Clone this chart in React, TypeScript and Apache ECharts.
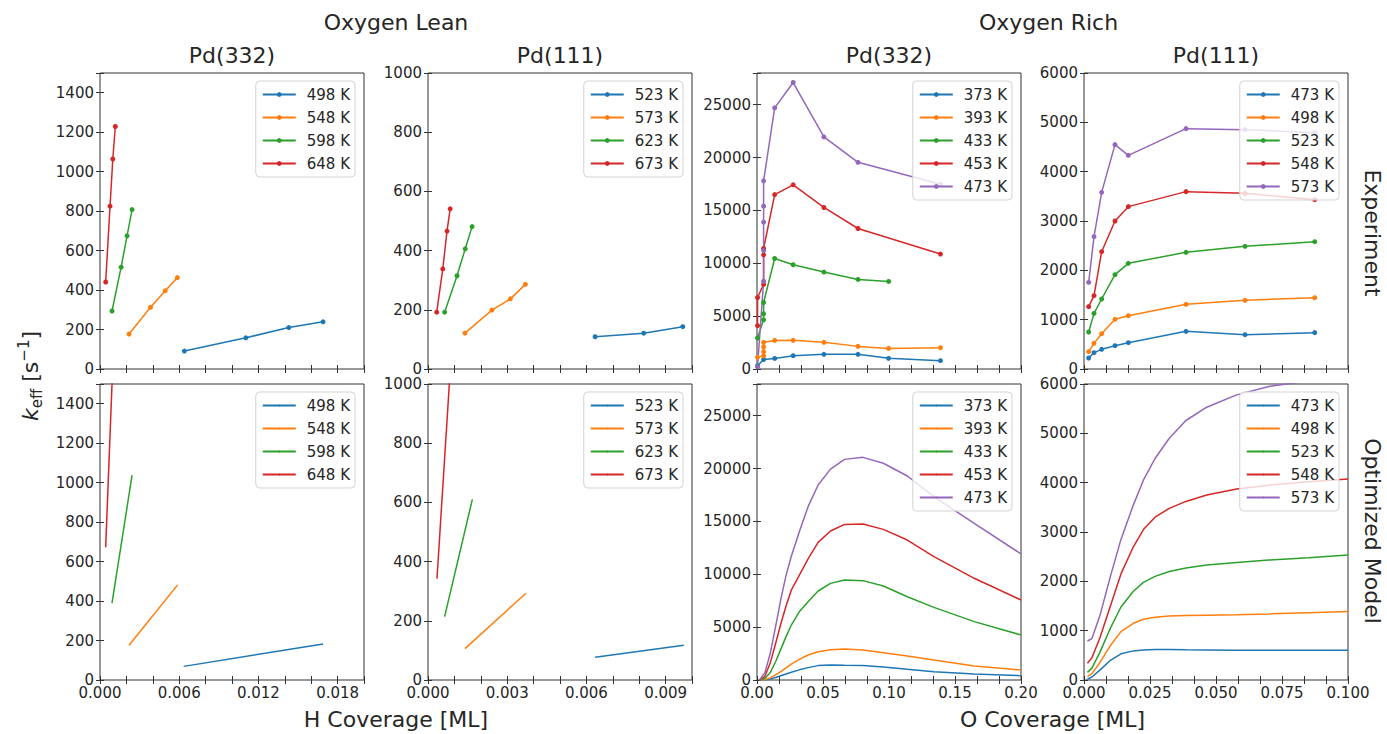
import React, { useEffect, useRef } from 'react';
import * as echarts from 'echarts';

// ---------- DATA ----------
const COLORS = ['#1f77b4', '#ff7f0e', '#2ca02c', '#d62728', '#9467bd'];

const panelTitles = ['Pd(332)', 'Pd(111)', 'Pd(332)', 'Pd(111)'];
const groupTitles = ['Oxygen Lean', 'Oxygen Rich'];
const rowTitles = ['Experiment', 'Optimized Model'];
const xTitles = ['H Coverage [ML]', 'O Coverage [ML]'];

// Oxygen Lean, Pd(332)
const leanPd332Temps = ['498 K', '548 K', '598 K', '648 K'];
const leanPd332Exp498 = [[0.00639, 91], [0.01105, 158], [0.0143, 210], [0.0169, 239]];
const leanPd332Exp548 = [[0.0022, 177], [0.00383, 313], [0.00494, 397], [0.00586, 463]];
const leanPd332Exp598 = [[0.00091, 294], [0.0016, 516], [0.00205, 675], [0.00243, 808]];
const leanPd332Exp648 = [[0.00043, 441], [0.00076, 825], [0.00097, 1064], [0.00116, 1229]];
const leanPd332Mod498 = [[0.00634, 69], [0.0169, 183]];
const leanPd332Mod548 = [[0.0022, 176], [0.00588, 482]];
const leanPd332Mod598 = [[0.00091, 389], [0.00243, 1038]];
const leanPd332Mod648 = [[0.00043, 673], [0.00116, 1930]];

// Oxygen Lean, Pd(111)
const leanPd111Temps = ['523 K', '573 K', '623 K', '673 K'];
const leanPd111Exp523 = [[0.00633, 109], [0.00817, 121], [0.00965, 143]];
const leanPd111Exp573 = [[0.0014, 121], [0.00242, 199], [0.00312, 237], [0.00369, 286]];
const leanPd111Exp623 = [[0.00063, 192], [0.0011, 315], [0.00141, 406], [0.00167, 481]];
const leanPd111Exp673 = [[0.00033, 192], [0.00056, 338], [0.00072, 466], [0.00084, 541]];
const leanPd111Mod523 = [[0.00633, 77], [0.00969, 117]];
const leanPd111Mod573 = [[0.0014, 106], [0.00371, 293]];
const leanPd111Mod623 = [[0.00063, 214], [0.00168, 610]];
const leanPd111Mod673 = [[0.00034, 342], [0.00084, 1045]];

// Oxygen Rich, Pd(332)
const richPd332Temps = ['373 K', '393 K', '433 K', '453 K', '473 K'];
const richPd332Exp373 = [[0.0004, 300], [0.005, 900], [0.0134, 1000], [0.0274, 1260], [0.0507, 1386], [0.0765, 1386], [0.0997, 1008], [0.139, 788]];
const richPd332Exp393 = [[0.0004, 1100], [0.005, 1260], [0.005, 1640], [0.005, 2080], [0.005, 2520], [0.0134, 2700], [0.0274, 2710], [0.0507, 2520], [0.0765, 2140], [0.0997, 1950], [0.139, 2015]];
const richPd332Exp433 = [[0.0004, 2930], [0.005, 4650], [0.005, 5220], [0.005, 6290], [0.0134, 10450], [0.0274, 9860], [0.0507, 9170], [0.0765, 8470], [0.0997, 8285]];
const richPd332Exp453 = [[0.0004, 4100], [0.0004, 6760], [0.005, 8000], [0.005, 10800], [0.005, 11400], [0.0134, 16500], [0.0274, 17420], [0.0507, 15280], [0.0765, 13290], [0.139, 10870]];
const richPd332Exp473 = [[0.0004, 200], [0.005, 8300], [0.005, 11200], [0.005, 13900], [0.005, 15400], [0.005, 17800], [0.0134, 24700], [0.0274, 27100], [0.0507, 21950], [0.0765, 19550], [0.139, 17480]];
const richPd332ModCov = [0.002, 0.006, 0.010, 0.014, 0.018, 0.022, 0.026, 0.032, 0.0387, 0.0463, 0.0557, 0.0663, 0.0803, 0.0957, 0.1139, 0.134, 0.1646, 0.2];
const richPd332Mod373 = [0, 0, 80, 230, 400, 570, 740, 960, 1170, 1360, 1420, 1390, 1360, 1230, 1010, 790, 570, 410];
const richPd332Mod393 = [0, 30, 200, 480, 800, 1150, 1500, 1950, 2365, 2680, 2870, 2930, 2840, 2585, 2270, 1890, 1320, 950];
const richPd332Mod433 = [0, 150, 700, 1700, 2900, 4100, 5200, 6450, 7410, 8420, 9140, 9460, 9400, 8890, 7880, 6870, 5520, 4260];
const richPd332Mod453 = [0, 350, 1600, 3400, 5300, 7000, 8500, 9900, 11450, 13020, 14090, 14720, 14760, 14250, 13240, 11670, 9620, 7570];
const richPd332Mod473 = [0, 700, 2500, 5000, 7600, 9900, 11700, 14000, 16400, 18450, 19950, 20870, 21060, 20500, 19300, 17340, 14820, 11920];

// Oxygen Rich, Pd(111)
const richPd111Temps = ['473 K', '498 K', '523 K', '548 K', '573 K'];
const richPd111ExpCov = [0.00177, 0.00379, 0.00669, 0.01174, 0.01679, 0.03864, 0.061, 0.0874];
const richPd111Exp473 = [223, 331, 399, 473, 534, 764, 696, 737];
const richPd111Exp498 = [351, 520, 716, 1007, 1081, 1311, 1392, 1446];
const richPd111Exp523 = [750, 1128, 1419, 1912, 2142, 2365, 2487, 2581];
const richPd111Exp548 = [1264, 1487, 2378, 3000, 3291, 3595, 3561, 3433];
const richPd111Exp573 = [1757, 2683, 3581, 4548, 4331, 4872, 4852, 4790];
const richPd111ModCov = [0.0013, 0.003, 0.006, 0.010, 0.014, 0.0187, 0.0225, 0.0269, 0.0323, 0.0386, 0.0465, 0.0578, 0.07, 0.085, 0.1];
const richPd111Mod473 = [15, 60, 200, 400, 530, 590, 610, 620, 620, 615, 610, 605, 605, 605, 605];
const richPd111Mod498 = [70, 130, 350, 700, 980, 1150, 1230, 1270, 1295, 1305, 1315, 1325, 1340, 1365, 1390];
const richPd111Mod523 = [155, 240, 560, 1050, 1480, 1800, 1980, 2100, 2200, 2270, 2330, 2380, 2430, 2480, 2535];
const richPd111Mod548 = [340, 450, 850, 1500, 2150, 2700, 3050, 3300, 3480, 3620, 3750, 3870, 3950, 4020, 4075];
const richPd111Mod573 = [790, 840, 1300, 2100, 2850, 3550, 4050, 4490, 4900, 5260, 5530, 5780, 5950, 6060, 6120];

// ---------- LAYOUT ----------
const W = 1387;
const H = 734;
const PANEL_LEFTS = [100, 428, 757, 1084];
const PANEL_W = 264;
const ROW_TOPS = [73, 384];
const PANEL_H = 296;
const TEXT = '#262626';
const SPINE = '#333333';
const FONT = 'DejaVu Sans';

const xCfg = [
  { max: 0.02, interval: 0.002, labelStep: 0.006, digits: 3, minor: 0 },
  { max: 0.01, interval: 0.001, labelStep: 0.003, digits: 3, minor: 0 },
  { max: 0.2, interval: 0.05, labelStep: 0.05, digits: 2, minor: 3 },
  { max: 0.1, interval: 0.025, labelStep: 0.025, digits: 3, minor: 3 },
];
const yCfg = [
  { max: 1500, interval: 200 },
  { max: 1000, interval: 200 },
  { max: 28000, interval: 5000 },
  { max: 6000, interval: 1000 },
];

const zip = (xs: number[], ys: number[]) => xs.map((x, i) => [x, ys[i]]);

// per column: [temps, experiment series, model series]
const columns: { temps: string[]; exp: number[][][]; mod: number[][][] }[] = [
  {
    temps: leanPd332Temps,
    exp: [leanPd332Exp498, leanPd332Exp548, leanPd332Exp598, leanPd332Exp648],
    mod: [leanPd332Mod498, leanPd332Mod548, leanPd332Mod598, leanPd332Mod648],
  },
  {
    temps: leanPd111Temps,
    exp: [leanPd111Exp523, leanPd111Exp573, leanPd111Exp623, leanPd111Exp673],
    mod: [leanPd111Mod523, leanPd111Mod573, leanPd111Mod623, leanPd111Mod673],
  },
  {
    temps: richPd332Temps,
    exp: [richPd332Exp373, richPd332Exp393, richPd332Exp433, richPd332Exp453, richPd332Exp473],
    mod: [richPd332Mod373, richPd332Mod393, richPd332Mod433, richPd332Mod453, richPd332Mod473].map((v) => zip(richPd332ModCov, v)),
  },
  {
    temps: richPd111Temps,
    exp: [richPd111Exp473, richPd111Exp498, richPd111Exp523, richPd111Exp548, richPd111Exp573].map((v) => zip(richPd111ExpCov, v)),
    mod: [richPd111Mod473, richPd111Mod498, richPd111Mod523, richPd111Mod548, richPd111Mod573].map((v) => zip(richPd111ModCov, v)),
  },
];

const isMultiple = (v: number, step: number) => {
  const r = v / step;
  return Math.abs(r - Math.round(r)) < 1e-6;
};

function buildOption() {
  const grid: any[] = [];
  const xAxis: any[] = [];
  const yAxis: any[] = [];
  const series: any[] = [];
  const legend: any[] = [];
  const labelMap: Record<string, string> = {};

  const tick = { show: true, inside: true, length: 4, lineStyle: { color: SPINE, width: 1 } };

  for (let r = 0; r < 2; r++) {
    for (let c = 0; c < 4; c++) {
      const g = r * 4 + c;
      const left = PANEL_LEFTS[c];
      const top = ROW_TOPS[r];
      grid.push({
        left, top, width: PANEL_W, height: PANEL_H,
        show: true, borderColor: SPINE, borderWidth: 1, backgroundColor: 'transparent',
      });
      const xc = xCfg[c];
      const yc = yCfg[c];
      const xBase = {
        type: 'value', gridIndex: g, min: 0, max: xc.max, interval: xc.interval,
        axisLine: { show: false }, splitLine: { show: false },
        axisTick: tick,
        minorTick: xc.minor ? { show: true, splitNumber: xc.minor, length: 4, lineStyle: { color: SPINE, width: 1 } } : { show: false },
        minorSplitLine: { show: false },
      };
      xAxis.push({
        ...xBase, position: 'bottom',
        axisLabel: {
          show: r === 1, color: TEXT, fontSize: 15, fontFamily: FONT, margin: 5,
          formatter: (v: number) => (isMultiple(v, xc.labelStep) ? v.toFixed(xc.digits) : ''),
        },
      });
      xAxis.push({ ...xBase, position: 'top', axisLabel: { show: false } });
      const yBase = {
        type: 'value', gridIndex: g, min: 0, max: yc.max, interval: yc.interval,
        axisLine: { show: false }, splitLine: { show: false }, axisTick: tick,
      };
      yAxis.push({
        ...yBase, position: 'left',
        axisLabel: {
          show: true, color: TEXT, fontSize: 15, fontFamily: FONT, margin: 6,
          formatter: (v: number) => (isMultiple(v, yc.interval) ? String(Math.round(v)) : ''),
        },
      });
      yAxis.push({ ...yBase, position: 'right', axisLabel: { show: false } });

      const col = columns[c];
      const dataSets = r === 0 ? col.exp : col.mod;
      const ids: string[] = [];
      dataSets.forEach((d, k) => {
        const id = `s${g}_${k}`;
        ids.push(id);
        labelMap[id] = col.temps[k];
        series.push({
          type: 'line', name: id, data: d,
          xAxisIndex: 2 * g, yAxisIndex: 2 * g,
          symbol: r === 0 ? 'circle' : 'none', symbolSize: 5, showSymbol: r === 0,
          lineStyle: { width: 1.5, color: COLORS[k] },
          itemStyle: { color: COLORS[k] },
          clip: true, silent: true, emphasis: { disabled: true }, z: 2,
        });
      });
      legend.push({
        data: ids, orient: 'vertical',
        right: W - (left + PANEL_W - 9), top: top + 8,
        itemWidth: 33, itemHeight: r === 0 ? 6 : 2, itemGap: 6,
        padding: [5, 5, 5, 6],
        backgroundColor: 'rgba(255,255,255,0.8)', borderColor: '#d3d3d3', borderWidth: 1, borderRadius: 4,
        selectedMode: false,
        formatter: (name: string) => labelMap[name],
        textStyle: { color: TEXT, fontSize: 15, fontFamily: FONT, lineHeight: 17, padding: [0, 0, 0, 6] },
        z: 10,
      });
    }
  }

  const txt = (text: string, x: number, y: number, extra: any = {}) => ({
    type: 'text', x, y, silent: true, ...extra,
    style: { text, fill: TEXT, fontSize: 22, fontFamily: FONT, align: 'center', verticalAlign: 'middle', ...(extra.style || {}) },
  });

  const graphic: any[] = [
    txt(groupTitles[0], (PANEL_LEFTS[0] + PANEL_LEFTS[1] + PANEL_W) / 2, 22),
    txt(groupTitles[1], (PANEL_LEFTS[2] + PANEL_LEFTS[3] + PANEL_W) / 2 - 4, 22),
    ...panelTitles.map((t, c) => txt(t, PANEL_LEFTS[c] + PANEL_W / 2, 55)),
    txt(xTitles[0], (PANEL_LEFTS[0] + PANEL_LEFTS[1] + PANEL_W) / 2, 719),
    txt(xTitles[1], (PANEL_LEFTS[2] + PANEL_LEFTS[3] + PANEL_W) / 2, 719),
    txt(rowTitles[0], 1372, 233, { rotation: -Math.PI / 2 }),
    txt(rowTitles[1], 1372, 531, { rotation: -Math.PI / 2 }),
    {
      type: 'text', x: 30, y: 376, rotation: Math.PI / 2, silent: true,
      style: {
        text: '{k|k}{sub|eff} [s{sup|\u22121}]',
        fill: TEXT, fontSize: 22, fontFamily: FONT, lineHeight: 28,
        align: 'center', verticalAlign: 'middle',
        rich: {
          k: { fontStyle: 'italic', fontSize: 22, fontFamily: FONT, fill: TEXT, lineHeight: 28 },
          sub: { fontSize: 15, fontFamily: FONT, fill: TEXT, lineHeight: 16, verticalAlign: 'bottom' },
          sup: { fontSize: 15, fontFamily: FONT, fill: TEXT, lineHeight: 16, verticalAlign: 'top' },
        },
      },
    },
  ];

  return {
    animation: false,
    backgroundColor: '#ffffff',
    textStyle: { fontFamily: FONT },
    grid, xAxis, yAxis, series, legend, graphic,
  };
}

export default function App() {
  const ref = useRef<HTMLDivElement>(null);
  useEffect(() => {
    if (!ref.current) return;
    const chart = echarts.init(ref.current, null, { renderer: 'svg' });
    chart.setOption(buildOption() as any);
    return () => chart.dispose();
  }, []);
  return (
    <div
      ref={ref}
      style={{ position: 'fixed', left: 0, top: 0, width: W, height: H, background: '#fff' }}
    />
  );
}
